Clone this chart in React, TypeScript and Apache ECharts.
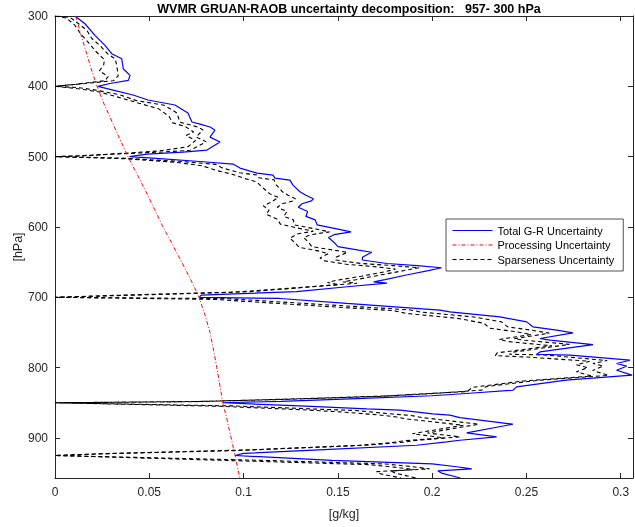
import React, { useEffect, useRef } from "react";
import * as echarts from "echarts";

const chartTitle = "WVMR GRUAN-RAOB uncertainty decomposition:   957- 300 hPa";
const seriesNames = ["Total G-R Uncertainty", "Processing Uncertainty", "Sparseness Uncertainty"];

// [pressure hPa, value g/kg]
const totalUncertainty: [number, number][] = [
  [300, 0.0106], [311, 0.0159], [327.5, 0.0212], [341.7, 0.0265], [353.6, 0.0301], [360.8, 0.0354],
  [375, 0.0362], [384.4, 0.0398], [391.5, 0.0389], [396, 0.0292], [400, 0.0228], [405.3, 0.0308],
  [412.4, 0.0414], [419.5, 0.0493], [426.6, 0.0636], [438, 0.0705], [450.8, 0.0726], [453.7, 0.0769],
  [457.9, 0.0822], [462.2, 0.0848], [472.2, 0.0822], [479.3, 0.0875], [490.7, 0.0806], [493.5, 0.0679],
  [496.4, 0.0488], [500, 0.0395], [502, 0.052], [507.3, 0.0785], [510.6, 0.0944], [516.3, 0.0981],
  [523.4, 0.1071], [526.2, 0.1156], [530.5, 0.1166], [533.4, 0.1246], [540.5, 0.1262], [550, 0.1299],
  [555, 0.133], [560, 0.137], [563, 0.136], [567, 0.131], [572, 0.129], [578, 0.134], [585, 0.133],
  [590, 0.138], [597, 0.139], [603, 0.15], [607, 0.157], [611, 0.148], [615, 0.145], [622, 0.148],
  [628, 0.15], [633, 0.161], [636, 0.168], [643, 0.163], [647, 0.163], [652, 0.176], [655, 0.192],
  [658, 0.205], [662, 0.198], [668, 0.187], [675, 0.175], [678, 0.169], [680, 0.176], [685, 0.155],
  [692, 0.128], [697, 0.0775], [700, 0.0765], [701.7, 0.1193], [708.8, 0.1547], [718.3, 0.2041],
  [720.7, 0.2094], [727.9, 0.236], [735, 0.2501], [742, 0.2534], [746.8, 0.266], [750.6, 0.2747],
  [758.6, 0.2572], [761, 0.2625], [767.4, 0.2853], [777.7, 0.2572], [781, 0.2554], [782.4, 0.2731],
  [789.5, 0.3049], [794.2, 0.2978], [798, 0.3031], [803.7, 0.2978], [810.8, 0.306], [817.9, 0.271],
  [827.4, 0.2448], [832.2, 0.2428], [836.8, 0.218], [840, 0.2], [844, 0.16], [848, 0.12], [850, 0.089],
  [854.5, 0.1299], [858.8, 0.1653], [860.6, 0.183], [865.9, 0.2004], [867.7, 0.2094], [871.2, 0.2147],
  [880.5, 0.2428], [892.9, 0.2183], [898.6, 0.2342], [903.3, 0.2147], [905.7, 0.2077], [910.4, 0.1918],
  [917, 0.14], [922, 0.1], [925, 0.0955], [932, 0.147], [937, 0.2], [941, 0.213], [944, 0.221],
  [947, 0.203], [950, 0.205], [957, 0.215],
];

const processingUncertainty: [number, number][] = [
  [300, 0.011], [325, 0.0136], [350, 0.0164], [375, 0.0192], [400, 0.0223], [425, 0.026], [450, 0.0302],
  [475, 0.0344], [500, 0.0387], [525, 0.0435], [550, 0.0483], [575, 0.0528], [600, 0.0573], [625, 0.0623],
  [650, 0.0672], [675, 0.072], [700, 0.0764], [725, 0.0795], [750, 0.0822], [775, 0.0841], [800, 0.0858],
  [825, 0.0874], [850, 0.089], [875, 0.0913], [900, 0.0934], [925, 0.0955], [957, 0.098],
];

const sparsenessUncertainty: [number, number][] = [
  [300, 0.001], [302, 0.008], [311, 0.0125], [320, 0.0168], [332, 0.0195], [342, 0.0238], [354, 0.028],
  [361, 0.032], [375, 0.033], [385, 0.0335], [392, 0.031], [396, 0.016], [400, 0], [402, 0.013],
  [405, 0.0208], [412, 0.0343], [420, 0.0428], [427, 0.058], [438, 0.0647], [451, 0.0662], [454, 0.0704],
  [458, 0.0759], [462, 0.0785], [472, 0.0748], [479, 0.0802], [491, 0.0716], [493.5, 0.0566],
  [496.4, 0.0306], [499, 0.014], [500, 0], [502, 0.0344], [507, 0.0675], [511, 0.0852], [516, 0.0887],
  [523, 0.098], [526, 0.107], [530, 0.1077], [533, 0.1162], [540, 0.1173], [550, 0.1206], [555, 0.1236],
  [560, 0.1275], [563, 0.1262], [567, 0.1205], [572, 0.1179], [578, 0.123], [585, 0.1213], [590, 0.1264],
  [597, 0.1269], [603, 0.1384], [607, 0.1456], [611, 0.1355], [615, 0.1319], [622, 0.1345], [628, 0.1362],
  [633, 0.1478], [636, 0.1551], [643, 0.149], [647, 0.1487], [652, 0.1624], [655, 0.1794], [658, 0.1931],
  [662, 0.1853], [668, 0.1731], [675, 0.1595], [678, 0.1526], [680, 0.1602], [685, 0.1364], [692, 0.1037],
  [697, 0.035], [700, 0], [702, 0.0915], [709, 0.1339], [718, 0.1884], [721, 0.194], [728, 0.2221],
  [735, 0.2368], [742, 0.24], [747, 0.2531], [751, 0.2621], [759, 0.2435], [761, 0.249], [767, 0.2728],
  [778, 0.243], [781, 0.241], [782, 0.2597], [790, 0.2928], [794, 0.2853], [798, 0.2907], [804, 0.2851],
  [811, 0.2935], [818, 0.2566], [827, 0.2286], [832, 0.2263], [837, 0.1993], [840, 0.1793], [844, 0.1331],
  [848, 0.0805], [850, 0], [854.5, 0.0942], [859, 0.1388], [861, 0.1593], [866, 0.1788], [868, 0.1887],
  [871, 0.1945], [880.5, 0.2247], [893, 0.1975], [898.6, 0.2148], [903, 0.1931], [906, 0.1852],
  [910, 0.167], [917, 0.1029], [922, 0.0303], [925, 0], [932, 0.1113], [937, 0.1752], [941, 0.1898],
  [944, 0.1986], [947, 0.1782], [950, 0.1804], [957, 0.1914],
];

const sparsenessUncertaintyAlt: [number, number][] = [
  [300, 0], [303, 0.006], [313, 0.0105], [325, 0.0135], [338, 0.0178], [350, 0.0215], [362, 0.0262],
  [370, 0.0258], [378, 0.0235], [386, 0.0282], [392, 0.0265], [397, 0.011], [400, 0], [403, 0.011],
  [408, 0.0235], [415, 0.033], [424, 0.0445], [432, 0.055], [443, 0.0605], [452, 0.0625], [457, 0.069],
  [465, 0.0735], [470, 0.0695], [477, 0.0745], [486, 0.0705], [492, 0.055], [496, 0.032], [499, 0.011],
  [500, 0], [503, 0.038], [508, 0.064], [513, 0.078], [520, 0.086], [525, 0.094], [531, 0.1005],
  [536, 0.107], [545, 0.1105], [553, 0.114], [558, 0.1185], [565, 0.1145], [570, 0.1105], [576, 0.1135],
  [582, 0.112], [589, 0.118], [596, 0.1195], [602, 0.1295], [606, 0.137], [610, 0.1285], [616, 0.1245],
  [623, 0.1275], [629, 0.1295], [634, 0.1395], [638, 0.145], [644, 0.1405], [648, 0.1425], [653, 0.1545],
  [657, 0.1715], [660, 0.1805], [664, 0.1745], [670, 0.1625], [676, 0.149], [679, 0.1445], [682, 0.1505],
  [687, 0.1255], [693, 0.0935], [698, 0.028], [700, 0], [703, 0.0845], [710, 0.1255], [719, 0.1795],
  [723, 0.1865], [730, 0.2135], [737, 0.2275], [744, 0.2305], [749, 0.2445], [753, 0.2525], [760, 0.2355],
  [763, 0.2405], [769, 0.2635], [779, 0.2345], [783, 0.2335], [785, 0.2505], [791, 0.2835], [796, 0.2765],
  [800, 0.2825], [806, 0.2765], [812, 0.2845], [819, 0.2485], [828, 0.2215], [834, 0.2185], [838, 0.1905],
  [841, 0.1715], [845, 0.1245], [848.5, 0.072], [850, 0], [855, 0.0875], [860, 0.1315], [863, 0.1515],
  [867, 0.1705], [870, 0.1805], [873, 0.1865], [882, 0.2165], [894, 0.1895], [900, 0.2065], [904, 0.1855],
  [907, 0.1775], [911, 0.1595], [918, 0.0955], [922.5, 0.026], [925, 0], [933, 0.1035], [938, 0.1665],
  [942, 0.1815], [945, 0.1905], [948, 0.1705], [951, 0.1725], [957, 0.1835],
];

const xMin = 0;
const xMax = 0.3065;
const xStep = 0.05;
const pTop = 300;
const pBottom = 957;
const pStep = 100;

export default function App() {
  const ref = useRef<HTMLDivElement>(null);
  useEffect(() => {
    if (!ref.current) return;
    const chart = echarts.init(ref.current, null, { renderer: "svg" });
    const font = "'Liberation Sans', Arial, Helvetica, sans-serif";
    const axisColor = "#262626";
    const toXY = (arr: [number, number][]) => arr.map(([p, v]) => [v, p]);
    const axisLine = { show: true, onZero: false, lineStyle: { color: axisColor, width: 1 } };
    const axisTick = { show: true, inside: true, length: 5, lineStyle: { color: axisColor, width: 1 } };
    chart.setOption({
      animation: false,
      textStyle: { fontFamily: font },
      title: {
        text: chartTitle,
        left: 344,
        top: -3,
        textAlign: "center",
        textStyle: { fontSize: 12.5, fontWeight: "bold", color: "#000", fontFamily: font },
      },
      grid: { left: 55, right: 2, top: 16, bottom: 49, containLabel: false },
      legend: {
        data: seriesNames,
        orient: "vertical",
        left: 446,
        top: 219,
        itemWidth: 40,
        itemHeight: 12,
        itemGap: 3.5,
        padding: [6, 9, 6, 6],
        borderColor: axisColor,
        borderWidth: 0.8,
        backgroundColor: "#fff",
        selectedMode: false,
        itemStyle: { color: "transparent", borderColor: "transparent", borderWidth: 0, opacity: 0 },
        lineStyle: { width: 1 },
        textStyle: { fontSize: 11, color: "#000", fontFamily: font },
      },
      xAxis: [
        {
          type: "value", min: xMin, max: xMax, interval: xStep, position: "bottom",
          name: "[g/kg]", nameLocation: "middle", nameGap: 29, nameMoveOverlap: false,
          nameTextStyle: { fontSize: 12.5, color: axisColor, fontFamily: font },
          axisLine, axisTick,
          axisLabel: { fontSize: 12, color: axisColor, margin: 8, showMaxLabel: false, fontFamily: font },
          splitLine: { show: false },
        },
        {
          type: "value", min: xMin, max: xMax, interval: xStep, position: "top",
          axisLine, axisTick, axisLabel: { show: false }, splitLine: { show: false },
        },
      ],
      yAxis: [
        {
          type: "value", inverse: true, min: pTop, max: pBottom, interval: pStep, position: "left",
          name: "[hPa]", nameLocation: "middle", nameGap: 31, nameRotate: 90, nameMoveOverlap: false,
          nameTextStyle: { fontSize: 12.5, color: axisColor, fontFamily: font },
          axisLine, axisTick,
          axisLabel: { fontSize: 12, color: axisColor, margin: 7, showMaxLabel: false, fontFamily: font },
          splitLine: { show: false },
        },
        {
          type: "value", inverse: true, min: pTop, max: pBottom, interval: pStep, position: "right",
          axisLine, axisTick, axisLabel: { show: false }, splitLine: { show: false },
        },
      ],
      series: [
        {
          name: seriesNames[2], type: "line", data: toXY(sparsenessUncertainty), symbol: "none",
          lineStyle: { color: "#000", width: 1.1, type: [4, 3] }, itemStyle: { color: "#000" },
        },
        {
          name: "Sparseness Uncertainty 2", type: "line", data: toXY(sparsenessUncertaintyAlt), symbol: "none",
          lineStyle: { color: "#000", width: 1.1, type: [4, 3] }, itemStyle: { color: "#000" },
        },
        {
          name: seriesNames[0], type: "line", data: toXY(totalUncertainty), symbol: "none",
          lineStyle: { color: "#0000ff", width: 1.2 }, itemStyle: { color: "#0000ff" },
        },
        {
          name: seriesNames[1], type: "line", data: toXY(processingUncertainty), symbol: "none",
          lineStyle: { color: "#ff0000", width: 1, type: [4, 2, 1, 2] }, itemStyle: { color: "#ff0000" },
        },
      ],
    });
    return () => chart.dispose();
  }, []);
  return <div ref={ref} style={{ position: "fixed", left: 0, top: 0, width: 635, height: 527 }} />;
}
